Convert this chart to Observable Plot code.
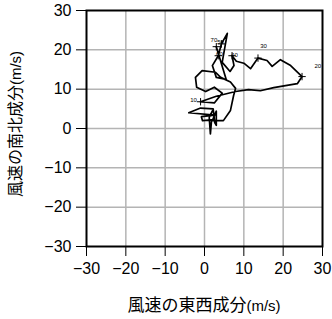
<!DOCTYPE html>
<html><head><meta charset="utf-8">
<script src="https://cdn.jsdelivr.net/npm/d3@7"></script>
<script src="https://cdn.jsdelivr.net/npm/@observablehq/plot@0.6"></script>
<style>body{margin:0;background:#fff} svg{display:block}</style>
</head><body><div id="chart"></div>
<script>
// axis ticks
const axisTicks = [-30, -20, -10, 0, 10, 20, 30];
const gridTicks = [-20, -10, 0, 10, 20];

// hodograph path: east-west (u) and north-south (v) wind components, m/s
const windU = [2.0, 1.2, 1.5, 1.8, -0.5, -0.8, 2.6, -4.0, -1.0, 2.2, 2.6, 3.0, 3.0, 2.0, 4.8, 6.6, 7.4, 7.9, 6.6, 4.1, 2.8, -0.6, -2.3, -2.0, 0.3, 2.5, 4.5, 2.5, -1.0,
  3.0, 7.9, 11.2, 14.2, 17.6, 23.6, 24.8,
  21.9, 19.3, 17.2, 15.9, 13.6,
  11.7, 10.0, 8.1, 7.0,
  7.5, 6.5, 4.5, 5.8, 4.3,
  3.5,
  2.0, 3.0, 5.5, 3.0];
const windV = [4.5, 2.8, -1.4, 2.2, 2.0, 3.0, 3.4, 4.0, 5.2, 5.0, 1.5, 0.8, 4.4, 2.0, 2.0, 4.6, 8.4, 10.2, 11.8, 13.0, 14.3, 14.7, 13.0, 10.5, 9.4, 10.5, 9.0, 6.5, 6.8,
  8.2, 9.4, 9.9, 9.6, 10.4, 11.4, 13.2,
  16.0, 17.5, 15.8, 17.3, 17.9,
  15.2, 16.6, 17.1, 18.5,
  16.0, 14.5, 16.8, 24.2, 21.5,
  18.5,
  16.0, 13.0, 12.5, 20.8];

// level markers and labels
const levelNames = ["10", "20", "30", "40", "50", "60", "70"];
const markU = [-1.0, 24.8, 13.6, 7.0, 4.3, 3.5, 3.0];
const markV = [6.8, 13.2, 17.9, 18.5, 21.5, 18.5, 20.8];
const labelU = [-2.8, 28.8, 15.0, 7.6, 4.1, 3.8, 2.4];
const labelV = [7.2, 15.8, 21.0, 18.6, 21.9, 18.9, 22.6];

const path = windU.map((d, i) => ({u: d, v: windV[i]}));
const marks = markU.map((d, i) => ({u: d, v: markV[i]}));
const labels = labelU.map((d, i) => ({u: d, v: labelV[i], t: levelNames[i]}));

const W = 332, H = 319;
const svg = Plot.plot({
  width: W, height: H,
  marginLeft: 86, marginRight: 10, marginTop: 10, marginBottom: 73,
  style: {fontFamily: "'Liberation Sans', Arial, sans-serif", background: "#fff", overflow: "visible"},
  x: {domain: [-30, 30]},
  y: {domain: [-30, 30]},
  marks: [
    Plot.gridX(gridTicks, {stroke: "#b4b4b4", strokeOpacity: 1, strokeWidth: 1.5}),
    Plot.gridY(gridTicks, {stroke: "#b4b4b4", strokeOpacity: 1, strokeWidth: 1.5}),
    Plot.line(path, {x: "u", y: "v", stroke: "#000", strokeWidth: 1.7}),
    Plot.dot(marks, {x: "u", y: "v", symbol: "plus", r: 2.5, stroke: "#000", strokeWidth: 1}),
    Plot.text(labels, {x: "u", y: "v", text: "t", fontSize: 6, fill: "#000"}),
    Plot.frame({stroke: "#000", strokeWidth: 2}),
    Plot.axisX(axisTicks, {tickSize: 10, tickPadding: 6, fontSize: 16, label: null, color: "#000"}),
    Plot.axisY(axisTicks, {tickSize: 10, tickPadding: 5, fontSize: 16, label: null, color: "#000"})
  ]
});

const s = d3.select(svg);
const xl = s.append("text").attr("x", 204).attr("y", 311).attr("text-anchor", "middle")
  .attr("font-size", 17).attr("fill", "#000");
xl.append("tspan").attr("font-family", "'Noto Sans CJK JP', sans-serif").text("風速の東西成分");
xl.append("tspan").attr("font-family", "'Liberation Sans', Arial, sans-serif").attr("font-size", 15).text("(m/s)");
const yl = s.append("text").attr("transform", "translate(21,124) rotate(-90)").attr("text-anchor", "middle")
  .attr("font-size", 16).attr("fill", "#000");
yl.append("tspan").attr("font-family", "'Noto Sans CJK JP', sans-serif").text("風速の南北成分");
yl.append("tspan").attr("font-family", "'Liberation Sans', Arial, sans-serif").attr("font-size", 15).text("(m/s)");

document.getElementById("chart").appendChild(svg);
</script>
</body></html>
